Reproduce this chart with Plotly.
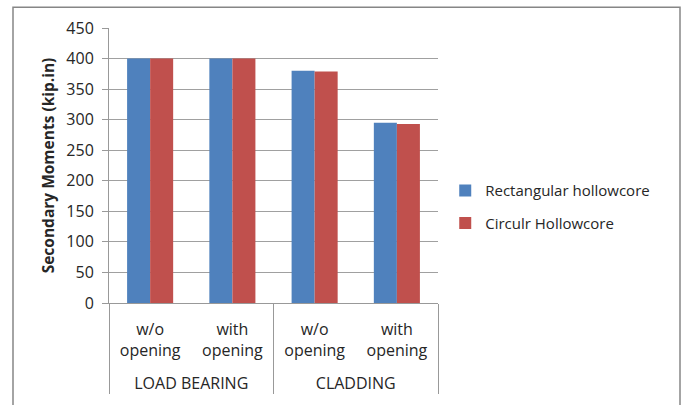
import plotly.graph_objects as go

groups = ["&nbsp;<br>LOAD BEARING", "&nbsp;<br>LOAD BEARING", "&nbsp;<br>CLADDING", "&nbsp;<br>CLADDING"]
cases = ["w/o<br>opening", "with<br>opening", "w/o<br>opening", "with<br>opening"]
rect_vals = [400, 400, 380, 295]
circ_vals = [400, 400, 379, 293]
y_ticks = [0, 50, 100, 150, 200, 250, 300, 350, 400, 450]

FONT = "Open Sans, Lato, sans-serif"
TXT = "#262626"

fig = go.Figure()
fig.add_trace(go.Bar(name="Rectangular hollowcore", x=[groups, cases], y=rect_vals,
                     legendgroup="rect",
                     marker=dict(color="#4F81BD", line=dict(width=0))))
fig.add_trace(go.Bar(name="Circulr Hollowcore", x=[groups, cases], y=circ_vals,
                     legendgroup="circ",
                     marker=dict(color="#C0504D", line=dict(width=0))))

fig.update_layout(
    width=683, height=405,
    margin=dict(l=109, r=245, t=28, b=100),
    paper_bgcolor="white", plot_bgcolor="white",
    barmode="group", bargap=0.44, bargroupgap=0,
    font=dict(family=FONT, size=16, color=TXT),
    showlegend=True,
    legend=dict(x=1.022, y=0.35, xanchor="left", yanchor="middle",
                font=dict(size=15, color=TXT), tracegroupgap=10),
    xaxis=dict(type="multicategory", showline=True, linecolor="#999999",
               linewidth=1, ticks="", showgrid=False,
               showdividers=True, dividercolor="#999999", dividerwidth=1,
               ticklabelstandoff=12,
               tickfont=dict(size=16, color=TXT)),
    yaxis=dict(range=[0, 450], tickvals=y_ticks, showgrid=True,
               gridcolor="#a0a0a0", gridwidth=1, showline=True,
               linecolor="#999999", linewidth=1, ticks="outside", ticklen=6,
               tickcolor="#999999", zeroline=False, ticklabelstandoff=5,
               tickfont=dict(size=16, color=TXT),
               title=dict(text="<b>Secondary Moments (kip.in)</b>",
                          font=dict(size=15.5, color=TXT), standoff=7)),
)

# outer chart-area frame (open at the bottom edge of the image)
fig.add_shape(type="rect", xref="paper", yref="paper",
              x0=-96 / 329, x1=571 / 329, y0=-1.2, y1=(305 - 7) / 277,
              line=dict(color="#868686", width=1.5), layer="below")

fig.write_html("out.html")
